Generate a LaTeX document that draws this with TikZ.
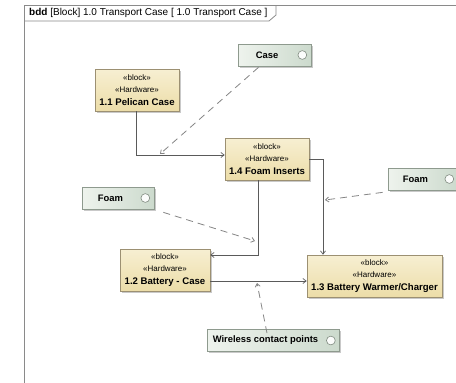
\documentclass[tikz,border=0pt]{standalone}
\usepackage{fontspec}
\setmainfont{Liberation Sans}
\usetikzlibrary{arrows.meta,shadows,calc}

\definecolor{blockfillA}{HTML}{F7EFD2}
\definecolor{blockfillB}{HTML}{ECDDA8}
\definecolor{blockdraw}{HTML}{9C9072}
\definecolor{portfillA}{HTML}{EEF3ED}
\definecolor{portfillB}{HTML}{CCDACD}
\definecolor{portdraw}{HTML}{8E9A8E}
\definecolor{framegray}{HTML}{8A8A8A}
\definecolor{wiregray}{HTML}{5A5A5A}
\definecolor{dashgray}{HTML}{858585}

\tikzset{
  hwblock/.style={draw=blockdraw, line width=0.7pt, top color=blockfillA, bottom color=blockfillB,
    minimum height=42pt, inner sep=0pt, align=center,
    drop shadow={shadow xshift=1.6pt, shadow yshift=-1.6pt, opacity=0.35, fill=black!60}},
  portbox/.style={draw=portdraw, line width=0.7pt, left color=portfillA, right color=portfillB,
    minimum height=22pt, inner sep=0pt,
    drop shadow={shadow xshift=1.6pt, shadow yshift=-1.6pt, opacity=0.35, fill=black!60}},
  porttext/.style={font=\fontsize{9.4}{11}\selectfont\bfseries, inner sep=0pt},
  portring/.style={draw=portdraw!90!black, fill=white!92!portfillB, line width=0.6pt},
  assoc/.style={draw=wiregray, line width=0.7pt, -{Straight Barb[length=3.2pt,width=5pt]}},
  depend/.style={draw=dashgray, line width=0.8pt, dash pattern=on 7pt off 5pt,
    -{Straight Barb[length=3.2pt,width=5pt]}},
}
\newcommand\stereo{\fontsize{8}{11.5}\selectfont}
\newcommand\blname{\fontsize{9.6}{14}\selectfont\bfseries}
\newcommand\hwtext[1]{\stereo «block»\\\stereo «Hardware»\\[1.5pt]\blname #1}

% a flow port: box, label centred left of the ring, ring on the right
\newcommand\flowport[5]{%
  \node[portbox, minimum width=#3] (#1) at (#2) {};
  \node[porttext] (#1-label) at ($(#1.west)!0.5!([xshift=-15pt]#1.east)$) {#4};
  \draw[portring] ([xshift=-#5]#1.east) circle (4.4pt);
}

\begin{document}
\begin{tikzpicture}[x=1pt,y=-1pt]
\useasboundingbox (0,0) rectangle (456,383);
\fill[white] (0,0) rectangle (456,383);

% diagram frame with its heading tab
\draw[framegray, line width=0.9pt] (24,420) -- (24,5) -- (480,5);
\draw[framegray, line width=0.8pt] (24,21) -- (269,21) -- (276,15) -- (276,5);
\node[anchor=west, inner sep=0pt, font=\fontsize{10}{12}\selectfont] (title) at (29,13)
  {\textbf{bdd} [Block] 1.0 Transport Case [ 1.0 Transport Case ]};

% hardware blocks
\node[hwblock, minimum width=84pt]  (pelican) at (137,90)    {\hwtext{1.1 Pelican Case}};
\node[hwblock, minimum width=84pt]  (inserts) at (267,159)   {\hwtext{1.4 Foam Inserts}};
\node[hwblock, minimum width=90pt]  (battcase) at (165,270)  {\hwtext{1.2 Battery - Case}};
\node[hwblock, minimum width=135pt] (warmer) at (374.5,276)  {\hwtext{1.3 Battery Warmer/Charger}};

% flow ports
\flowport{case}{274.5,55}{73pt}{Case}{9pt}
\flowport{foamL}{118,198}{72pt}{Foam}{9pt}
\flowport{foamR}{423,179}{70pt}{Foam}{9pt}
\flowport{wireless}{273,340.5}{132pt}{Wireless contact points}{8.5pt}

% associations between blocks
\draw[assoc] ([xshift=-1pt]pelican.south) |- ([yshift=4pt]inserts.west);
\draw[assoc] ([xshift=-9pt]inserts.south) |- ([yshift=15pt]battcase.east);
\draw[assoc] (inserts.east) -| ([xshift=-51.5pt]warmer.north);
\coordinate (bcout) at ([yshift=-11pt]battcase.east);
\draw[assoc] (bcout) -- (bcout -| warmer.west);

% dependencies from the ports onto the connectors
\coordinate (tipCase) at (160,154);
\coordinate (tipFoamL) at (255,241);
\coordinate (tipFoamR) at (325,200);
\coordinate (tipWireless) at (257,283);
\draw[depend] ([xshift=-16pt, yshift=-1pt]case.south) -- (tipCase);
\draw[depend] ([shift={(9pt,-3pt)}]foamL.south east) -- (tipFoamL);
\draw[depend] ([shift={(-5pt,-2pt)}]foamR.south west) -- (tipFoamR);
\draw[depend] ([xshift=-6pt, yshift=-4pt]wireless.north) -- (tipWireless);
\end{tikzpicture}
\end{document}
